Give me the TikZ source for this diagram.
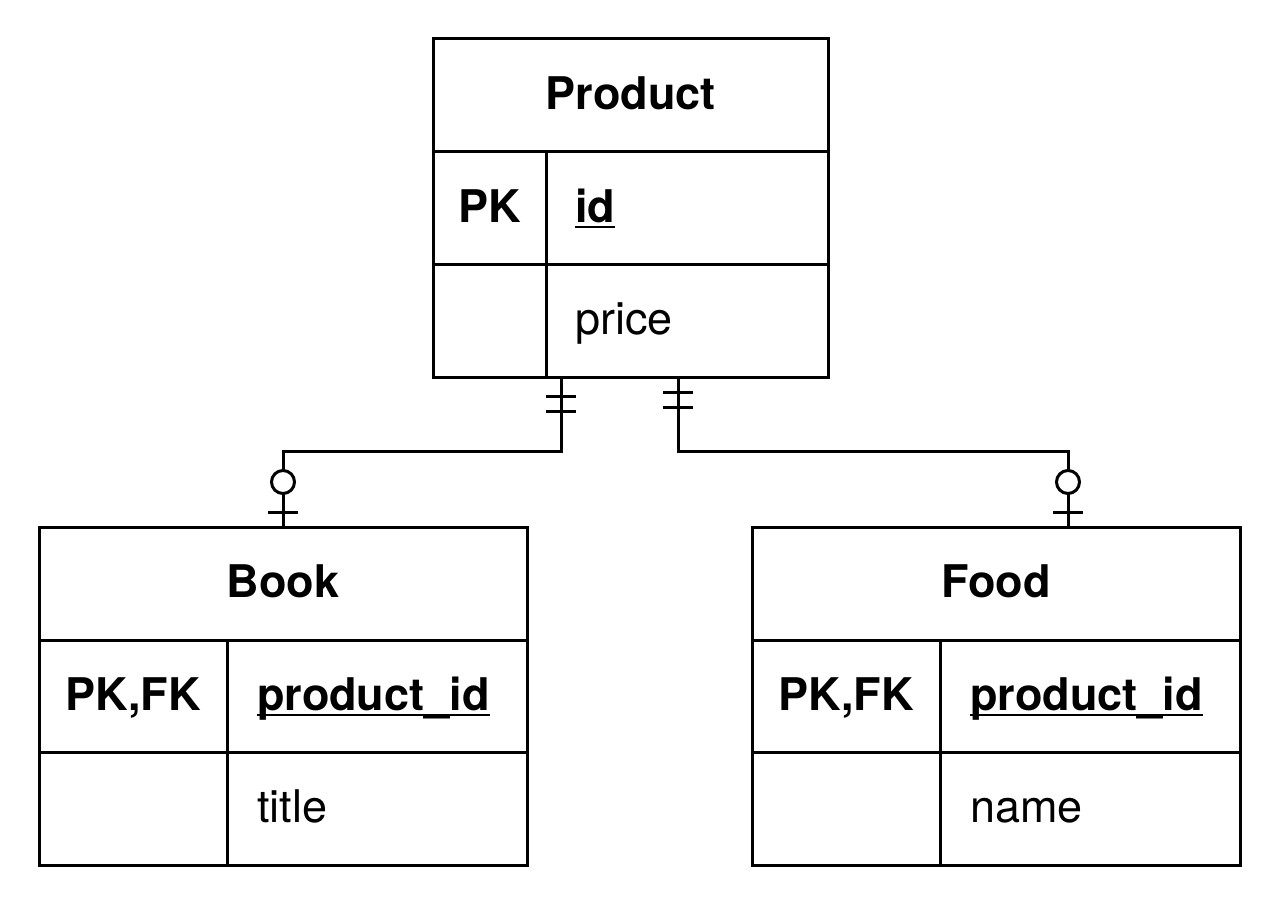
\documentclass[tikz,border=0pt]{standalone}
\usepackage{fontspec}
\setmainfont{TeX Gyre Heros}
\usetikzlibrary{positioning}
\newcommand{\erfont}{\fontsize{22.5}{27}\selectfont}
\newcommand{\keyline}[1]{\setbox0\hbox{#1}\rlap{\rule[-3pt]{\wd0}{1.1pt}}\box0}
\tikzset{
  cell/.style={draw,line width=1.5pt,outer sep=0pt,inner sep=0pt,anchor=north west,
    minimum height=56.25pt,text height=14pt,text depth=0pt,font=\erfont\bfseries},
  attr/.style={inner sep=0pt,outer sep=0pt,anchor=west,text height=14pt,text depth=0pt,font=\erfont},
  conn/.style={line width=1.5pt},
  zero/.style={circle,draw,line width=1.5pt,minimum size=11.5pt,inner sep=0pt,outer sep=0pt}
}
\begin{document}
\begin{tikzpicture}[x=0.5pt,y=-0.5pt]
        \useasboundingbox (0,0) rectangle (1280,904);
        % Product
        \node[cell,minimum width=197.5pt,minimum height=56.5pt](prod)at(433,39){Product};
        \node[cell,minimum width=56.5pt](prodk1)at(prod.south west){PK};
        \node[cell,minimum width=141pt](proda1)at(prodk1.north east){};
        \node[cell,minimum width=56.5pt](prodk2)at(prodk1.south west){};
        \node[cell,minimum width=141pt](proda2)at(prodk2.north east){};
        \node[attr,font=\erfont\bfseries,right=14.5pt of proda1.west](prodid){\keyline{id}};
        \node[attr,right=14.5pt of proda2.west](prodprice){price};
        % Book
        \node[cell,minimum width=244pt,minimum height=56.5pt](book)at(39,527){Book};
        \node[cell,minimum width=94pt](bookk1)at(book.south west){PK,FK};
        \node[cell,minimum width=150pt](booka1)at(bookk1.north east){};
        \node[cell,minimum width=94pt](bookk2)at(bookk1.south west){};
        \node[cell,minimum width=150pt](booka2)at(bookk2.north east){};
        \node[attr,font=\erfont\bfseries,right=15pt of booka1.west](bookpid){\keyline{product\_id}};
        \node[attr,right=15pt of booka2.west](booktitle){title};
        % Food
        \node[cell,minimum width=244pt,minimum height=56.5pt](food)at(752,527){Food};
        \node[cell,minimum width=94pt](foodk1)at(food.south west){PK,FK};
        \node[cell,minimum width=150pt](fooda1)at(foodk1.north east){};
        \node[cell,minimum width=94pt](foodk2)at(foodk1.south west){};
        \node[cell,minimum width=150pt](fooda2)at(foodk2.north east){};
        \node[attr,font=\erfont\bfseries,right=15pt of fooda1.west](foodpid){\keyline{product\_id}};
        \node[attr,right=15pt of fooda2.west](foodname){name};

        % relationships
        \coordinate(pl)at(561,377);
        \coordinate(pr)at(678,377);
        \coordinate(bt)at(283,527);
        \coordinate(ft)at(1068,527);
        \node[zero](bz)at(283,482){};
        \node[zero](fz)at(1068,482){};

        \draw[conn](pl)--++(0,74)-|(bz.north);
        \draw[conn](bz.south)--(bt);
        \draw[conn](pr)--++(0,74)-|(fz.north);
        \draw[conn](fz.south)--(ft);

        \draw[conn](pl)++(-15,19)--++(30,0);
        \draw[conn](pl)++(-15,34)--++(30,0);
        \draw[conn](pr)++(-15,15)--++(30,0);
        \draw[conn](pr)++(-15,30)--++(30,0);
        \draw[conn](bt)++(-15,-15)--++(30,0);
        \draw[conn](ft)++(-15,-15)--++(30,0);
    \end{tikzpicture}
\end{document}
